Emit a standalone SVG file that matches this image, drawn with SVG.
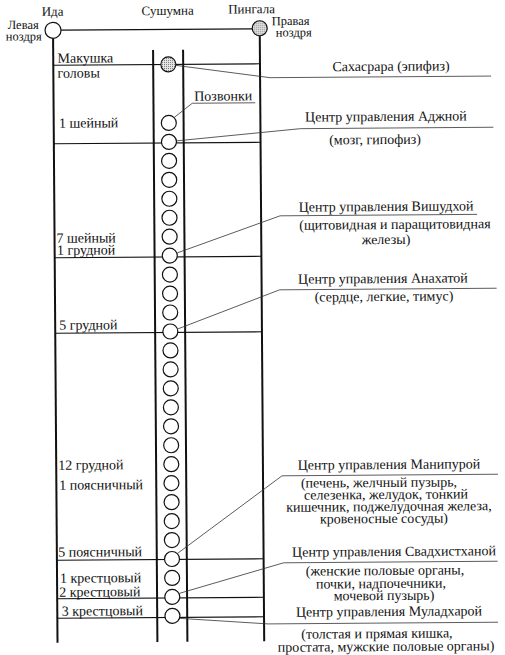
<svg xmlns="http://www.w3.org/2000/svg" width="505" height="655" viewBox="0 0 505 655">
<defs>
<pattern id="stip" width="2" height="2" patternUnits="userSpaceOnUse">
<rect width="2" height="2" fill="#e6e6e6"/>
<rect width="1" height="1" fill="#7a7a7a"/>
</pattern>
</defs>
<style>
text{font-family:"Liberation Serif","Times New Roman","DejaVu Serif",serif;fill:#111}
.lbl{font-size:14px}
.nz{font-size:12.5px}
.rt{font-size:14px;text-anchor:middle}
.hd{font-size:13px;text-anchor:middle}
.vert{stroke:#111;stroke-width:2;fill:none}
.hor{stroke:#111;stroke-width:1.2;fill:none}
.lead{stroke:#333;stroke-width:0.8;fill:none}
.vb{fill:#fff;stroke:#111;stroke-width:1.2}
.dot{fill:url(#stip);stroke:#111;stroke-width:1.2}
</style>
<rect width="505" height="655" fill="#fff"/>
<g transform="rotate(-0.42 160 340)" font-family="Liberation Serif, Times New Roman, serif">
<g id="structure">
<line class="vert" x1="55.3" y1="37.5" x2="55.3" y2="642"/>
<line class="vert" x1="155.2" y1="50" x2="155.2" y2="642"/>
<line class="vert" x1="185.2" y1="50" x2="185.2" y2="642"/>
<line class="vert" x1="262" y1="36.5" x2="262" y2="642"/>
<line class="hor" x1="63.3" y1="29.5" x2="254.5" y2="29.5"/>
<line class="hor" x1="55.3" y1="64.5" x2="262" y2="64.5"/>
<line class="hor" x1="55.3" y1="143" x2="262" y2="143"/>
<line class="hor" x1="55.3" y1="257" x2="262" y2="257"/>
<line class="hor" x1="55.3" y1="332.5" x2="262" y2="332.5"/>
<line class="hor" x1="55.3" y1="559.5" x2="262" y2="559.5"/>
<line class="hor" x1="55.3" y1="598" x2="262" y2="598"/>
<line class="hor" x1="55.3" y1="617.5" x2="262" y2="617.5"/>
</g>
<g id="connectors">
<polyline class="lead" points="178,65.5 272,78.5 493,78.5"/>
<polyline class="lead" points="176,117.5 194,103.5 257,103.5"/>
<polyline class="lead" points="178,141 302,129.7 495,129.7"/>
<polyline class="lead" points="178,253 281,216.7 478,216.7"/>
<polyline class="lead" points="178,329 280,290.7 497,290.7"/>
<polyline class="lead" points="176,553.5 281,476.7 497,476.7"/>
<polyline class="lead" points="177.5,593.5 282,563.7 496,563.7"/>
<polyline class="lead" points="178,618.5 266,624.7 496,624.7"/>
</g>
<g id="ida">
<circle class="vb" cx="55.3" cy="29.5" r="8"/>
<text class="hd" x="55" y="15">Ида</text>
<text class="nz" x="41" y="28" text-anchor="end">Левая</text>
<text class="nz" x="44" y="39.5" text-anchor="end">ноздря</text>
</g>
<g id="sushumna">
<text class="hd" x="170" y="15">Сушумна</text>
</g>
<g id="pingala">
<circle class="dot" cx="262" cy="29" r="7.5"/>
<text class="hd" x="254" y="14">Пингала</text>
<text class="nz" x="274" y="26">Правая</text>
<text class="nz" x="278" y="37.5">ноздря</text>
</g>
<g id="vertebrae">
<circle class="dot" cx="170.4" cy="64.5" r="7.5"/>
<circle class="vb" cx="170.4" cy="123" r="7.5"/>
<circle class="vb" cx="170.4" cy="141.96" r="7.5"/>
<circle class="vb" cx="170.4" cy="160.92" r="7.5"/>
<circle class="vb" cx="170.4" cy="179.88" r="7.5"/>
<circle class="vb" cx="170.4" cy="198.84" r="7.5"/>
<circle class="vb" cx="170.4" cy="217.8" r="7.5"/>
<circle class="vb" cx="170.4" cy="236.76" r="7.5"/>
<circle class="vb" cx="170.4" cy="255.72" r="7.5"/>
<circle class="vb" cx="170.4" cy="274.68" r="7.5"/>
<circle class="vb" cx="170.4" cy="293.64" r="7.5"/>
<circle class="vb" cx="170.4" cy="312.6" r="7.5"/>
<circle class="vb" cx="170.4" cy="331.56" r="7.5"/>
<circle class="vb" cx="170.4" cy="350.52" r="7.5"/>
<circle class="vb" cx="170.4" cy="369.48" r="7.5"/>
<circle class="vb" cx="170.4" cy="388.44" r="7.5"/>
<circle class="vb" cx="170.4" cy="407.4" r="7.5"/>
<circle class="vb" cx="170.4" cy="426.36" r="7.5"/>
<circle class="vb" cx="170.4" cy="445.32" r="7.5"/>
<circle class="vb" cx="170.4" cy="464.28" r="7.5"/>
<circle class="vb" cx="170.4" cy="483.24" r="7.5"/>
<circle class="vb" cx="170.4" cy="502.2" r="7.5"/>
<circle class="vb" cx="170.4" cy="521.16" r="7.5"/>
<circle class="vb" cx="170.4" cy="540.12" r="7.5"/>
<circle class="vb" cx="170.4" cy="559.08" r="7.5"/>
<circle class="vb" cx="170.4" cy="578.04" r="7.5"/>
<circle class="vb" cx="170.4" cy="597" r="7.5"/>
<circle class="vb" cx="170.4" cy="615.96" r="7.5"/>
<text class="lbl" x="196" y="101">Позвонки</text>
</g>
<g id="levels">
<text class="lbl" x="59.5" y="62">Макушка</text>
<text class="lbl" x="59.5" y="77">головы</text>
<text class="lbl" x="60.5" y="127">1 шейный</text>
<text class="lbl" x="57.2" y="242">7 шейный</text>
<text class="lbl" x="57.7" y="254">1 грудной</text>
<text class="lbl" x="59.4" y="329">5 грудной</text>
<text class="lbl" x="57.3" y="469">12 грудной</text>
<text class="lbl" x="58.2" y="489">1 поясничный</text>
<text class="lbl" x="56.7" y="556">5 поясничный</text>
<text class="lbl" x="58.2" y="582">1 крестцовый</text>
<text class="lbl" x="57.4" y="596">2 крестцовый</text>
<text class="lbl" x="59.7" y="615">3 крестцовый</text>
</g>
<g id="sahasrara">
<text class="rt" x="393" y="72.5">Сахасрара (эпифиз)</text>
</g>
<g id="ajna">
<text class="rt" x="387.6" y="122.7">Центр управления Аджной</text>
<text class="rt" x="376.5" y="145.7">(мозг, гипофиз)</text>
</g>
<g id="vishuddha">
<text class="rt" x="387" y="212.7">Центр управления Вишудхой</text>
<text class="rt" x="395.8" y="230.7">(щитовидная и паращитовидная</text>
<text class="rt" x="386.7" y="245.7">железы)</text>
</g>
<g id="anahata">
<text class="rt" x="383.4" y="284.7">Центр управления Анахатой</text>
<text class="rt" x="384.3" y="302.7">(сердце, легкие, тимус)</text>
</g>
<g id="manipura">
<text class="rt" x="388" y="470.7">Центр управления Манипурой</text>
<text class="rt" x="377.9" y="488.7">(печень, желчный пузырь,</text>
<text class="rt" x="384.8" y="500.7">селезенка, желудок, тонкий</text>
<text class="rt" x="387.7" y="512.7">кишечник, поджелудочная железа,</text>
<text class="rt" x="382.6" y="524.7">кровеносные сосуды)</text>
</g>
<g id="svadhisthana">
<text class="rt" x="392.4" y="557.7">Центр управления Свадхистханой</text>
<text class="rt" x="383.3" y="576.7">(женские половые органы,</text>
<text class="rt" x="379.2" y="589.7">почки, надпочечники,</text>
<text class="rt" x="382.1" y="601.7">мочевой пузырь)</text>
</g>
<g id="muladhara">
<text class="rt" x="387" y="617.7">Центр управления Муладхарой</text>
<text class="rt" x="374.8" y="639.7">(толстая и прямая кишка,</text>
<text class="rt" x="383.8" y="652.7">простата, мужские половые органы)</text>
</g>
</g>
</svg>
